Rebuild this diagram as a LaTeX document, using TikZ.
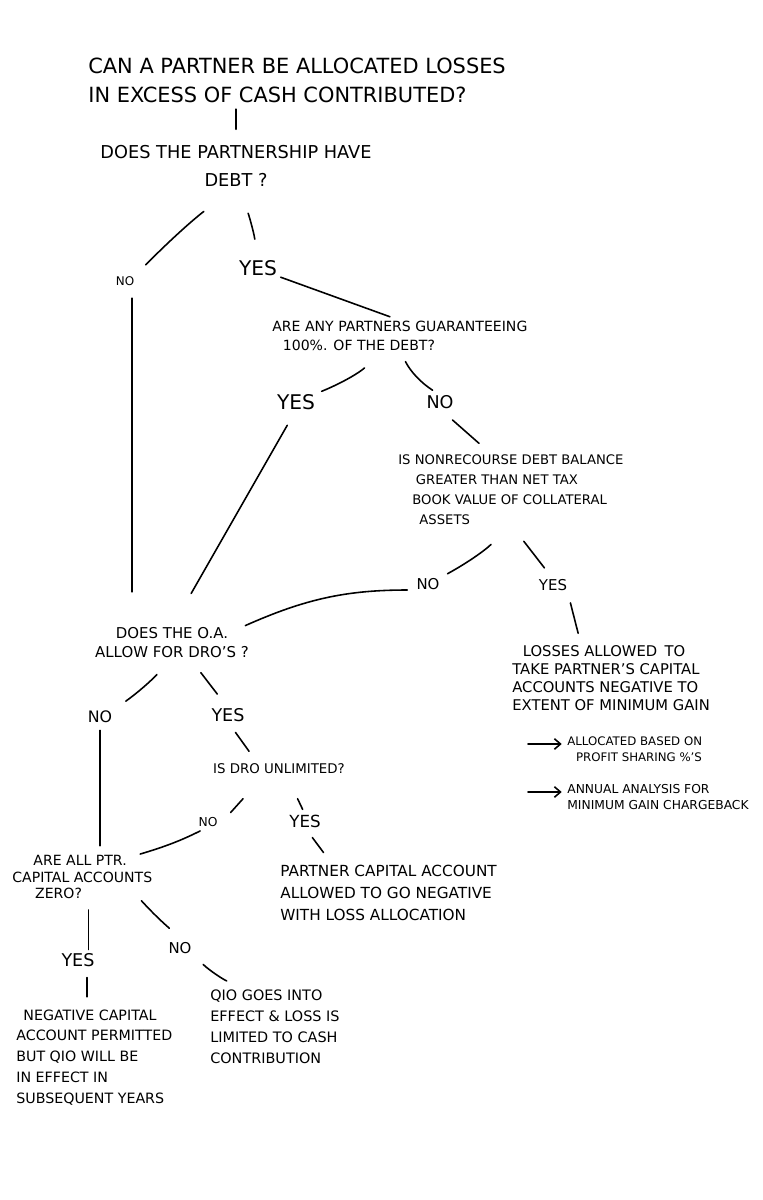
\documentclass[tikz,border=0pt]{standalone}
\usepackage{fontspec}
\setmainfont{DejaVu Sans}
\usetikzlibrary{arrows.meta}
\begin{document}
\begin{tikzpicture}[x=0.02cm, y=-0.02cm,
	blk/.style 2 args={shape=rectangle, inner sep=0pt, align=left, anchor=west, font=\fontsize{#1}{#2}\selectfont},
	mid/.style 2 args={shape=rectangle, inner sep=0pt, align=center, font=\fontsize{#1}{#2}\selectfont},
	lbl/.style={shape=rectangle, inner sep=0pt, font=\fontsize{#1}{#1}\selectfont},
	link/.style={line width=0.9pt, line cap=round},
	arr/.style={link, -{Straight Barb[length=3.5pt, width=6pt]}, shorten >=3pt}]
	\useasboundingbox (0,0) rectangle (762,1200);
	\node (title) at (88,80.5) [blk={11.9}{16.4}] {CAN A PARTNER BE ALLOCATED LOSSES\\IN EXCESS OF CASH CONTRIBUTED?};
	\node (debt) at (236,166) [mid={10.1}{15.9}] {DOES THE PARTNERSHIP HAVE\\DEBT ?};
	\node (no1) at (125,281) [lbl=6.8] {NO};
	\node (yes1) at (258,268) [lbl=11.5] {YES};
	\node (guar) at (272,335.5) [blk={8}{10.8}] {ARE ANY PARTNERS GUARANTEEING\\\hspace*{6pt}100\%. OF THE DEBT?};
	\node (yes2) at (296,402) [lbl=11.5] {YES};
	\node (no2) at (440,402) [lbl=10] {NO};
	\node (nonrec) at (398,489.5) [blk={7.5}{11.3}] {IS NONRECOURSE DEBT BALANCE\\\hspace*{10pt}GREATER THAN NET TAX\\\hspace*{8pt}BOOK VALUE OF COLLATERAL\\\hspace*{12pt}ASSETS};
	\node (no3) at (428,584) [lbl=8.5] {NO};
	\node (yes3) at (553,585) [lbl=8.5] {YES};
	\node (loss) at (512,678) [blk={8.4}{10.2}] {\hspace*{6pt}LOSSES ALLOWED\enspace TO\\TAKE PARTNER'S CAPITAL\\ACCOUNTS NEGATIVE TO\\EXTENT OF MINIMUM GAIN};
	\coordinate (a1) at (528,744);
	\node (note1) at (567,749) [blk={6.7}{9}] {ALLOCATED BASED ON\\\hspace*{5pt}PROFIT SHARING \%'S};
	\coordinate (a2) at (528,792);
	\node (note2) at (567,797) [blk={7}{9}] {ANNUAL ANALYSIS FOR\\MINIMUM GAIN CHARGEBACK};
	\node (oa) at (172,642.5) [mid={8.5}{10.8}] {DOES THE O.A.\\ALLOW FOR DRO'S ?};
	\node (no4) at (100,717) [lbl=9] {NO};
	\node (yes4) at (228,715) [lbl=10] {YES};
	\node (unlim) at (279,769) [lbl=7.6] {IS DRO UNLIMITED?};
	\node (no5) at (208,822) [lbl=7] {NO};
	\node (yes5) at (305,821) [lbl=9.5] {YES};
	\node (zero) at (12,877) [blk={8}{9.6}] {\hspace*{12pt}ARE ALL PTR.\\CAPITAL ACCOUNTS\\\hspace*{13pt}ZERO?};
	\node (pcap) at (280,892.5) [blk={8.7}{12.5}] {PARTNER CAPITAL ACCOUNT\\ALLOWED TO GO NEGATIVE\\WITH LOSS ALLOCATION};
	\node (yes6) at (78,960) [lbl=10] {YES};
	\node (no6) at (180,948) [lbl=8.5] {NO};
	\node (neg) at (16,1057.5) [blk={8.1}{11.9}] {\hspace*{4pt}NEGATIVE CAPITAL\\ACCOUNT PERMITTED\\BUT QIO WILL BE\\IN EFFECT IN\\SUBSEQUENT YEARS};
	\node (qio) at (210,1026.5) [blk={8.2}{11.9}] {QIO GOES INTO\\EFFECT \& LOSS IS\\LIMITED TO CASH\\CONTRIBUTION};
	\draw [link, shorten <=3.4pt, shorten >=9pt] (debt.north |- title.south) -- (debt.north);
	\draw [link, shorten <=23pt, shorten >=9pt] (debt.south) to[bend right=4] (no1.north east);
	\draw [link, shorten <=16.5pt, shorten >=12pt] (debt.south) to[bend left=8] (yes1.north);
	\draw [link, shorten <=2pt, shorten >=6pt] (yes1.south east) -- (guar.north);
	\draw [link, shorten <=14.6pt, shorten >=4pt] (guar) to[bend left=10] (yes2);
	\draw [link, shorten <=7pt, shorten >=5pt] (guar.south) to[bend right=15] (no2.north);
	\draw [link, shorten <=10pt, shorten >=22pt] (yes2.south) -- (oa.north);
	\draw [link, shorten <=7pt, shorten >=20pt] ([xshift=4pt]no1.south) -- ([xshift=4pt]no1.south |- oa.north);
	\draw [link, shorten <=9.5pt, shorten >=9.5pt] (no2.south) -- ([xshift=-11pt]nonrec.north);
	\draw [link, shorten <=16pt, shorten >=5pt] (nonrec.south) to[bend left=8] (no3.north east);
	\draw [link, shorten <=12pt, shorten >=8pt] (nonrec.south) -- (yes3.north);
	\draw [link, shorten <=7pt, shorten >=7pt] (yes3.south east) -- ([xshift=-17pt]loss.north);
	\draw [arr] (a1) -- (a1 -| note1.west);
	\draw [arr] (a2) -- (a2 -| note2.west);
	\draw [link, shorten <=5pt, shorten >=2pt] (no3.south west) to[bend right=12] ([xshift=-4pt]oa.north east);
	\draw [link, shorten <=12.7pt, shorten >=9.3pt] (oa.south) to[bend left=6] (no4.north east);
	\draw [link, shorten <=10.5pt, shorten >=10pt] ([xshift=10pt]oa.south) -- (yes4.north);
	\draw [link, shorten <=4pt, shorten >=5pt] (no4.south) -- (no4.south |- zero.north);
	\draw [link, shorten <=7.3pt, shorten >=8.6pt] (yes4.south) -- ([xshift=-12pt]unlim.north);
	\draw [link, shorten <=18.6pt, shorten >=3.4pt] ([xshift=-8pt]unlim.south) -- ([xshift=5pt]no5.north east);
	\draw [link, shorten <=15.3pt, shorten >=3.1pt] ([xshift=4pt]unlim.south) -- (yes5.north);
	\draw [link, shorten <=5pt, shorten >=1pt] (no5.south) to[bend left=5] ([xshift=-8pt]zero.north east);
	\draw [link, shorten <=7pt, shorten >=8.4pt] (yes5.south) -- ([xshift=-32pt]pcap.north);
	\draw [link, shorten <=6pt, shorten >=2pt] ([xshift=6pt]yes6.north |- zero.south) -- ([xshift=6pt]yes6.north);
	\draw [link, shorten <=1pt, shorten >=15pt] ([xshift=-7pt]zero.south east) to[bend right=8] (no6.north east);
	\draw [link, shorten <=6pt, shorten >=7pt] ([xshift=5pt]yes6.south) -- ([xshift=5pt]yes6.south |- neg.north);
	\draw [link, shorten <=8.8pt, shorten >=12.5pt] (no6.south east) to[bend right=10] ([xshift=21pt]qio.north west);
\end{tikzpicture}
\end{document}
